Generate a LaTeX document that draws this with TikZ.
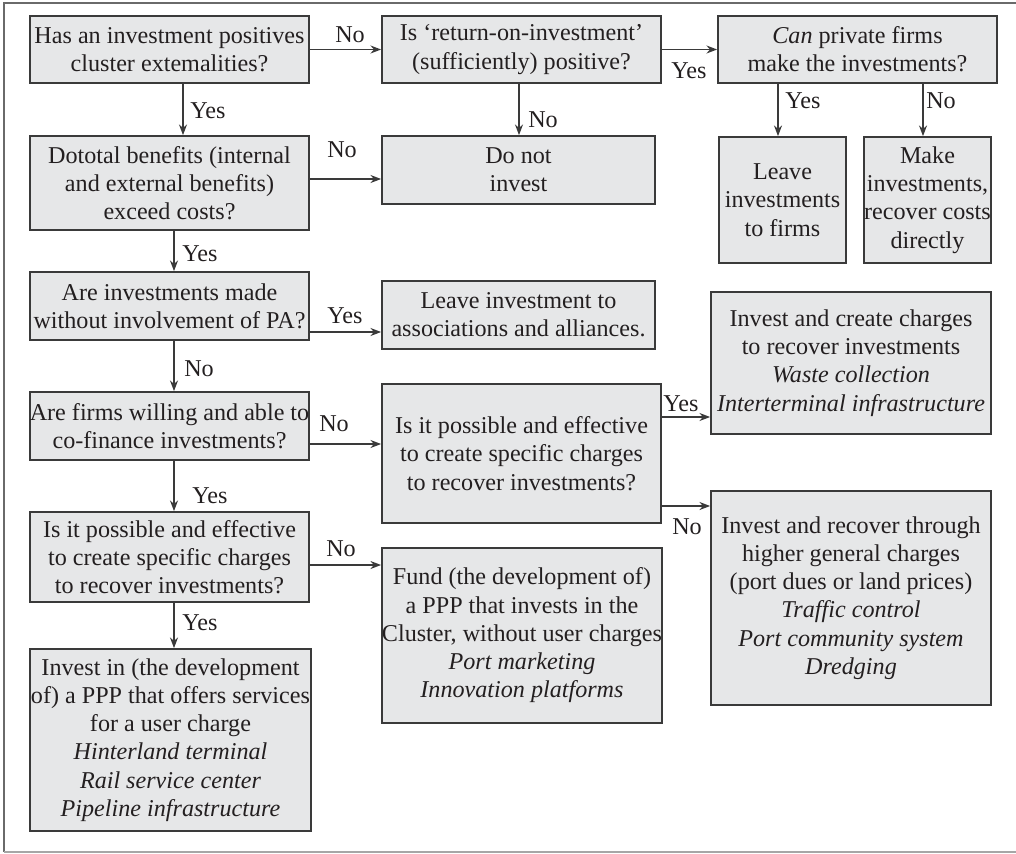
\documentclass[tikz,border=0pt]{standalone}
\usepackage{fontspec}
\setmainfont{Liberation Serif}
\usetikzlibrary{arrows.meta,calc}
\definecolor{boxfill}{HTML}{E6E7E8}
\definecolor{ink}{HTML}{231F20}
\definecolor{edge}{HTML}{3A3A3A}
\definecolor{frame}{HTML}{6A6A6A}
\begin{document}
\begin{tikzpicture}[x=0.75pt,y=-0.75pt,
  box/.style={draw=edge,line width=1.3pt,fill=boxfill,text=ink,inner sep=0pt,align=center,
    font=\fontsize{18.1pt}{21.2pt}\selectfont},
  arr/.style={draw=edge,line width=1.1pt,-{Stealth[length=8pt,width=6pt]}},
  lbl/.style={inner sep=0pt,text=ink,font=\fontsize{18.1pt}{21.2pt}\selectfont}]
\useasboundingbox (0,0) rectangle (1016,853);
\draw[frame,line width=1pt] (1016,3) -- (4,3) -- (4,852);
\draw[black!35,line width=1pt] (4,852) -- (1016,852);
% boxes
\node[box,minimum width=279*0.75pt,minimum height=67*0.75pt] (A) at (169.5,49.5) {Has an investment positives\\cluster extemalities?};
\node[box,minimum width=279*0.75pt,minimum height=67*0.75pt] (B) at (521.5,49.5) {Is `return-on-investment'\\(sufficiently) positive?};
\node[box,minimum width=279*0.75pt,minimum height=67*0.75pt] (C) at (857.5,49.5) {\textit{Can} private firms\\make the investments?};
\node[box,minimum width=279*0.75pt,minimum height=94*0.75pt] (D) at (169.5,183) {Dototal benefits (internal\\and external benefits)\\exceed costs?};
\node[box,minimum width=273*0.75pt,minimum height=68*0.75pt] (E) at (518.5,170) {Do not\\invest};
\node[box,minimum width=127*0.75pt,minimum height=126*0.75pt] (F) at (782.5,200) {Leave\\investments\\to firms};
\node[box,minimum width=127*0.75pt,minimum height=126*0.75pt] (G) at (927.5,200) {Make\\investments,\\recover costs\\directly};
\node[box,minimum width=279*0.75pt,minimum height=68*0.75pt] (H) at (169.5,306) {Are investments made\\without involvement of PA?};
\node[box,minimum width=273*0.75pt,minimum height=68*0.75pt] (I) at (518.5,315) {Leave investment to\\associations and alliances.};
\node[box,minimum width=279*0.75pt,minimum height=68*0.75pt] (J) at (169.5,426) {Are firms willing and able to\\co-finance investments?};
\node[box,minimum width=279*0.75pt,minimum height=139*0.75pt] (K) at (521.5,453.5) {Is it possible and effective\\to create specific charges\\to recover investments?};
\node[box,minimum width=280*0.75pt,minimum height=142*0.75pt] (L) at (851,363) {Invest and create charges\\to recover investments\\\textit{Waste collection}\\\textit{Interterminal infrastructure}};
\node[box,minimum width=280*0.75pt,minimum height=214*0.75pt] (M) at (851,598) {Invest and recover through\\higher general charges\\(port dues or land prices)\\\textit{Traffic control}\\\textit{Port community system}\\\textit{Dredging}};
\node[box,minimum width=279*0.75pt,minimum height=90*0.75pt] (N) at (169.5,557) {Is it possible and effective\\to create specific charges\\to recover investments?};
\node[box,minimum width=280*0.75pt,minimum height=175*0.75pt] (O) at (522,635.5) {Fund (the development of)\\a PPP that invests in the\\Cluster, without user charges\\\textit{Port marketing}\\\textit{Innovation platforms}};
\node[box,minimum width=281*0.75pt,minimum height=182*0.75pt] (P) at (170.5,740) {Invest in (the development\\of) a PPP that offers services\\for a user charge\\\textit{Hinterland terminal}\\\textit{Rail service center}\\\textit{Pipeline infrastructure}};
% connector start points
\coordinate (ad) at ($(A.south)+(13.5,0)$);
\coordinate (be) at ($(B.south)+(-2.5,0)$);
\coordinate (cf) at ($(C.south)+(-79.5,0)$);
\coordinate (cg) at ($(C.south)+(65.5,0)$);
\coordinate (de) at ($(D.east)+(0,-4)$);
\coordinate (dh) at ($(D.south)+(4.5,0)$);
\coordinate (hi) at ($(H.east)+(0,26)$);
\coordinate (hj) at ($(H.south)+(4.5,0)$);
\coordinate (jk) at ($(J.east)+(0,18)$);
\coordinate (jn) at ($(J.south)+(4.5,0)$);
\coordinate (kl) at ($(K.east)+(0,-36.5)$);
\coordinate (km) at ($(K.east)+(0,52.5)$);
\coordinate (no) at ($(N.east)+(0,8)$);
\coordinate (np) at ($(N.south)+(4.5,0)$);
% connectors
\draw[arr] (A.east) -- (B.west);
\draw[arr] (B.east) -- (C.west);
\draw[arr] (ad) -- (ad |- D.north);
\draw[arr] (be) -- (be |- E.north);
\draw[arr] (cf) -- (cf |- F.north);
\draw[arr] (cg) -- (cg |- G.north);
\draw[arr] (de) -- (de -| E.west);
\draw[arr] (dh) -- (dh |- H.north);
\draw[arr] (hi) -- (hi -| I.west);
\draw[arr] (hj) -- (hj |- J.north);
\draw[arr] (jk) -- (jk -| K.west);
\draw[arr] (jn) -- (jn |- N.north);
\draw[arr] (kl) -- (kl -| L.west);
\draw[arr] (km) -- (km -| M.west);
\draw[arr] (no) -- (no -| O.west);
\draw[arr] (np) -- (np |- P.north);
% labels
\node[lbl] (lab) at (350,35) {No};
\node[lbl] (lad) at (208,111) {Yes};
\node[lbl] (lbe) at (543,120) {No};
\node[lbl] (lbc) at (689,71) {Yes};
\node[lbl] (lcf) at (803,101) {Yes};
\node[lbl] (lcg) at (941,101) {No};
\node[lbl] (lde) at (342,150) {No};
\node[lbl] (ldh) at (200,254) {Yes};
\node[lbl] (lhi) at (345,316) {Yes};
\node[lbl] (lhj) at (199,369) {No};
\node[lbl] (ljk) at (334,424) {No};
\node[lbl] (ljn) at (210,496) {Yes};
\node[lbl] (lkl) at (681,404) {Yes};
\node[lbl] (lkm) at (687,527) {No};
\node[lbl] (lno) at (341,549) {No};
\node[lbl] (lnp) at (200,623) {Yes};
\end{tikzpicture}
\end{document}
